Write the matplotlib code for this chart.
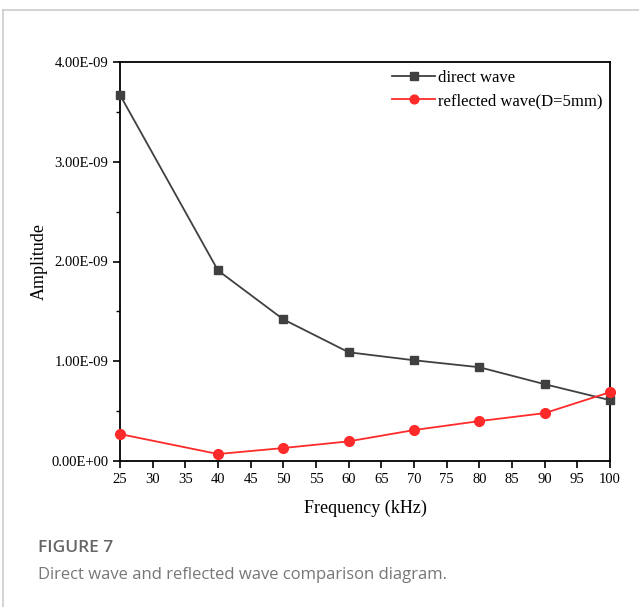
import matplotlib
matplotlib.use("Agg")
import matplotlib.pyplot as plt
from matplotlib.lines import Line2D
from matplotlib.ticker import MultipleLocator, FixedFormatter, FixedLocator

freq = [25, 40, 50, 60, 70, 80, 90, 100]
direct = [3.67e-9, 1.91e-9, 1.42e-9, 1.09e-9, 1.01e-9, 0.94e-9, 0.77e-9, 0.61e-9]
reflected = [0.27e-9, 0.07e-9, 0.13e-9, 0.197e-9, 0.31e-9, 0.40e-9, 0.48e-9, 0.69e-9]
xticks = list(range(25, 101, 5))
yticks = [0, 1e-9, 2e-9, 3e-9, 4e-9]
ylabels = ["0.00E+00", "1.00E-09", "2.00E-09", "3.00E-09", "4.00E-09"]

serif = ["Liberation Serif", "DejaVu Serif"]
fig = plt.figure(figsize=(6.39, 6.07), dpi=100)
ax = fig.add_axes([120/639, 1-461/607, 490/639, 399/607])

ax.plot(freq, direct, color="#404040", marker="s", markersize=6, lw=1.3, label="direct wave", clip_on=False, zorder=3)
ax.plot(freq, reflected, color="#ff2a2a", marker="o", markersize=7, lw=1.3, label="reflected wave(D=5mm)", clip_on=False, zorder=3)

ax.set_xlim(25, 100)
ax.set_ylim(0, 4e-9)
ax.xaxis.set_major_locator(FixedLocator(xticks))
ax.yaxis.set_major_locator(FixedLocator(yticks))
ax.yaxis.set_major_formatter(FixedFormatter(ylabels))
ax.yaxis.set_minor_locator(MultipleLocator(0.5e-9))
ax.tick_params(axis="both", which="major", direction="out", length=5, width=1.2, labelsize=10.5)
ax.tick_params(axis="y", which="minor", direction="out", length=3, width=1.0)
for lab in ax.get_xticklabels() + ax.get_yticklabels():
    lab.set_family(serif)
for s in ax.spines.values():
    s.set_linewidth(1.3)

ax.set_xlabel("Frequency (kHz)", family=serif, fontsize=13, labelpad=10)
ax.set_ylabel("Amplitude", family=serif, fontsize=13, labelpad=2)

leg = ax.legend(loc="upper right", frameon=False, prop={"family": serif, "size": 12},
                handlelength=2.6, handletextpad=0.15, borderaxespad=0.05, labelspacing=0.45,
                markerscale=0.9)

# frame lines
fig.add_artist(Line2D([3/639, 1], [1-10/607, 1-10/607], color="#cccccc", lw=1.2))
fig.add_artist(Line2D([3/639, 3/639], [0, 1-10/607], color="#cccccc", lw=1.2))

fig.text(38/639, 1-548/607, "FIGURE 7", family=["Open Sans", "DejaVu Sans"], fontsize=12.5,
         fontweight="semibold", color="#666666", va="center")
fig.text(38/639, 1-575/607, "Direct wave and reflected wave comparison diagram.",
         family=["Open Sans", "DejaVu Sans"], fontsize=12, color="#777777", va="center")

fig.savefig("out.png", dpi=100)
